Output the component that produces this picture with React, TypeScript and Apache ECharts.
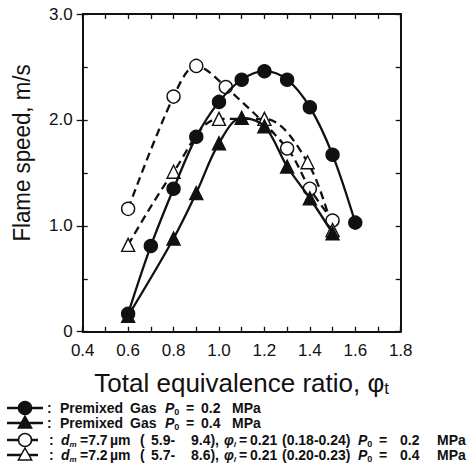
import React, { useEffect, useRef } from "react";
import * as echarts from "echarts";

// Premixed gas, P0 = 0.2 MPa (filled circles)
const premix02X = [0.6, 0.7, 0.8, 0.9, 1.0, 1.1, 1.2, 1.3, 1.4, 1.5, 1.6];
const premix02Y = [0.17, 0.81, 1.35, 1.84, 2.17, 2.38, 2.46, 2.38, 2.12, 1.67, 1.03];
// Premixed gas, P0 = 0.4 MPa (filled triangles)
const premix04X = [0.6, 0.8, 0.9, 1.0, 1.1, 1.2, 1.3, 1.4, 1.5];
const premix04Y = [0.15, 0.88, 1.31, 1.78, 2.02, 1.94, 1.56, 1.26, 0.93];
// Spray dm=7.7 um, P0 = 0.2 MPa (open circles)
const spray02X = [0.6, 0.8, 0.9, 1.03, 1.3, 1.4, 1.5];
const spray02Y = [1.16, 2.22, 2.51, 2.31, 1.73, 1.35, 1.05];
// Spray dm=7.2 um, P0 = 0.4 MPa (open triangles)
const spray04X = [0.6, 0.8, 1.0, 1.2, 1.39, 1.5];
const spray04Y = [0.82, 1.51, 2.01, 2.01, 1.6, 0.96];

const xTicks = { min: 0.4, max: 1.8, interval: 0.1 };
const yTicks = { min: 0, max: 3, interval: 0.5 };
const yMajor = { min: 0, max: 3, interval: 1 };

const FONT = "'Liberation Sans', Arial, Helvetica, sans-serif";
const INK = "#111";

const zip = (xs: number[], ys: number[]) => xs.map((x, i) => [x, ys[i]]);

const triPoints = (r: number) => [
  [0, -r],
  [r * 0.95, r * 0.7],
  [-r * 0.95, r * 0.7],
];

export default function App() {
  const ref = useRef<HTMLDivElement>(null);
  useEffect(() => {
    if (!ref.current) return;
    const chart = echarts.init(ref.current, null, { renderer: "svg" });

    const FS = 14;
    const rich = {
      i: { fontStyle: "italic", fontFamily: FONT, fontSize: FS, fontWeight: "bold", fill: INK },
      s: { fontFamily: FONT, fontSize: 9, fontWeight: "bold", padding: [8, 0, 0, 0], fill: INK },
      si: { fontFamily: FONT, fontSize: 8, fontStyle: "italic", fontWeight: "bold", padding: [8, 0, 0, 0], fill: INK },
    };
    const txt = (x: number, y: number, text: string) => ({
      type: "text",
      x,
      y,
      style: {
        text,
        rich,
        fontFamily: FONT,
        fontSize: FS,
        fontWeight: "bold",
        fill: INK,
        verticalAlign: "middle",
      },
    });

    const rowY = [408, 423, 440, 455];
    const legendItems: any[] = [];
    const symbols = [
      { kind: "circle", filled: true },
      { kind: "tri", filled: true },
      { kind: "circle", filled: false },
      { kind: "tri", filled: false },
    ];
    symbols.forEach((s, i) => {
      const y = rowY[i];
      const x2 = s.filled ? 43 : 38;
      legendItems.push({
        type: "line",
        shape: { x1: 7, y1: y, x2, y2: y },
        style: { stroke: INK, lineWidth: 2.5 },
      });
      if (s.kind === "circle") {
        legendItems.push({
          type: "circle",
          shape: { cx: 25, cy: y, r: 6.5 },
          style: { fill: s.filled ? INK : "#fff", stroke: INK, lineWidth: 1.5 },
        });
      } else {
        legendItems.push({
          type: "polygon",
          x: 25,
          y: y,
          shape: { points: triPoints(7) },
          style: { fill: s.filled ? INK : "#fff", stroke: INK, lineWidth: 1.5 },
        });
      }
      legendItems.push(txt(s.filled ? 47 : 49, y, ":"));
    });
    const gasRows = ["0.2", "0.4"];
    gasRows.forEach((p, k) => {
      const y = rowY[k];
      legendItems.push(txt(60, y, "Premixed"));
      legendItems.push(txt(130, y, "Gas"));
      legendItems.push(txt(165, y, "{i|P}{s|0}"));
      legendItems.push(txt(186, y, "="));
      legendItems.push(txt(201, y, p));
      legendItems.push(txt(232, y, "MPa"));
    });
    const sprayRows = [
      ["7.7", "5.9-", "9.4),", "(0.18-0.24)", "0.2"],
      ["7.2", "5.7-", "8.6),", "(0.20-0.23)", "0.4"],
    ];
    sprayRows.forEach((r, k) => {
      const y = rowY[2 + k];
      legendItems.push(txt(61, y, "{i|d}{si|m}"));
      legendItems.push(txt(80, y, `=${r[0]}`));
      legendItems.push(txt(110, y, "µm"));
      legendItems.push(txt(140, y, "("));
      legendItems.push(txt(151, y, r[1]));
      legendItems.push(txt(191, y, r[2]));
      legendItems.push(txt(224, y, "{i|φ}{si|l}"));
      legendItems.push(txt(239, y, "="));
      legendItems.push(txt(250, y, "0.21"));
      legendItems.push(txt(282, y, r[3]));
      legendItems.push(txt(358, y, "{i|P}{s|0}"));
      legendItems.push(txt(379, y, "="));
      legendItems.push(txt(400, y, r[4]));
      legendItems.push(txt(437, y, "MPa"));
    });

    // y-axis title
    legendItems.push({
      type: "text",
      x: 21.5,
      y: 153,
      rotation: Math.PI / 2,
      scaleX: 0.93,
      style: {
        text: "Flame speed, m/s",
        fontFamily: FONT,
        fontSize: 24,
        fill: INK,
        align: "center",
        verticalAlign: "middle",
      },
    });

    const lineSeries = (
      name: string,
      data: number[][],
      symbol: string,
      filled: boolean,
      dashed: boolean,
      size: number
    ) => ({
      name,
      type: "line",
      data,
      smooth: 0.35,
      symbol,
      symbolSize: size,
      showSymbol: true,
      lineStyle: { color: INK, width: 2.3, type: dashed ? [8, 5] : "solid" },
      itemStyle: { color: filled ? INK : "#fff", borderColor: INK, borderWidth: 1.4 },
      z: filled ? 3 : 2,
    });

    const xLabel = (v: number) => {
      const t = Math.round(v * 10);
      return t % 2 === 0 ? (t / 10).toFixed(1) : "";
    };
    const yLabel = (v: number) => (v === 0 ? "0" : v.toFixed(1));

    const axisCommon = {
      type: "value",
      splitLine: { show: false },
      axisLine: { show: true, onZero: false, lineStyle: { color: INK, width: 2 } },
      axisTick: { show: true, inside: true, length: 5, lineStyle: { color: INK, width: 1.3 } },
    };

    chart.setOption({
      animation: false,
      backgroundColor: "#fff",
      grid: { left: 82.7, right: 68.3, top: 14, bottom: 136.3, containLabel: false },
      xAxis: [
        {
          ...axisCommon,
          ...xTicks,
          position: "bottom",
          axisLabel: {
            formatter: xLabel,
            fontFamily: FONT,
            fontSize: 17,
            color: INK,
            margin: 10,
            showMinLabel: true,
            showMaxLabel: true,
          },
          name: "Total equivalence ratio, {p|φ}{t|t}",
          nameLocation: "middle",
          nameGap: 37,
          nameTextStyle: {
            fontFamily: FONT,
            fontSize: 26,
            color: INK,
            rich: {
              p: { fontFamily: FONT, fontSize: 26, color: INK },
              t: { fontFamily: FONT, fontSize: 17, color: INK, padding: [11, 0, 0, 0] },
            },
          },
        },
        {
          ...axisCommon,
          ...xTicks,
          position: "top",
          axisLabel: { show: false },
        },
      ],
      yAxis: [
        {
          ...axisCommon,
          ...yMajor,
          position: "left",
          axisTick: { show: true, inside: false, length: 6, lineStyle: { color: INK, width: 1.3 } },
          axisLabel: {
            formatter: yLabel,
            fontFamily: FONT,
            fontSize: 17,
            color: INK,
            margin: 10,
          },
        },
        {
          ...axisCommon,
          ...yTicks,
          position: "right",
          axisLabel: { show: false },
        },
        {
          ...axisCommon,
          ...yTicks,
          position: "left",
          axisLine: { show: false },
          axisLabel: { show: false },
        },
      ],
      series: [
        lineSeries("premix02", zip(premix02X, premix02Y), "circle", true, false, 13),
        lineSeries("premix04", zip(premix04X, premix04Y), "triangle", true, false, 13),
        lineSeries("spray02", zip(spray02X, spray02Y), "circle", false, true, 13),
        lineSeries("spray04", zip(spray04X, spray04Y), "triangle", false, true, 13),
      ],
      graphic: legendItems,
    });
    return () => chart.dispose();
  }, []);

  return (
    <div
      ref={ref}
      style={{ position: "fixed", left: 0, top: 0, width: 469, height: 468, background: "#fff" }}
    />
  );
}
